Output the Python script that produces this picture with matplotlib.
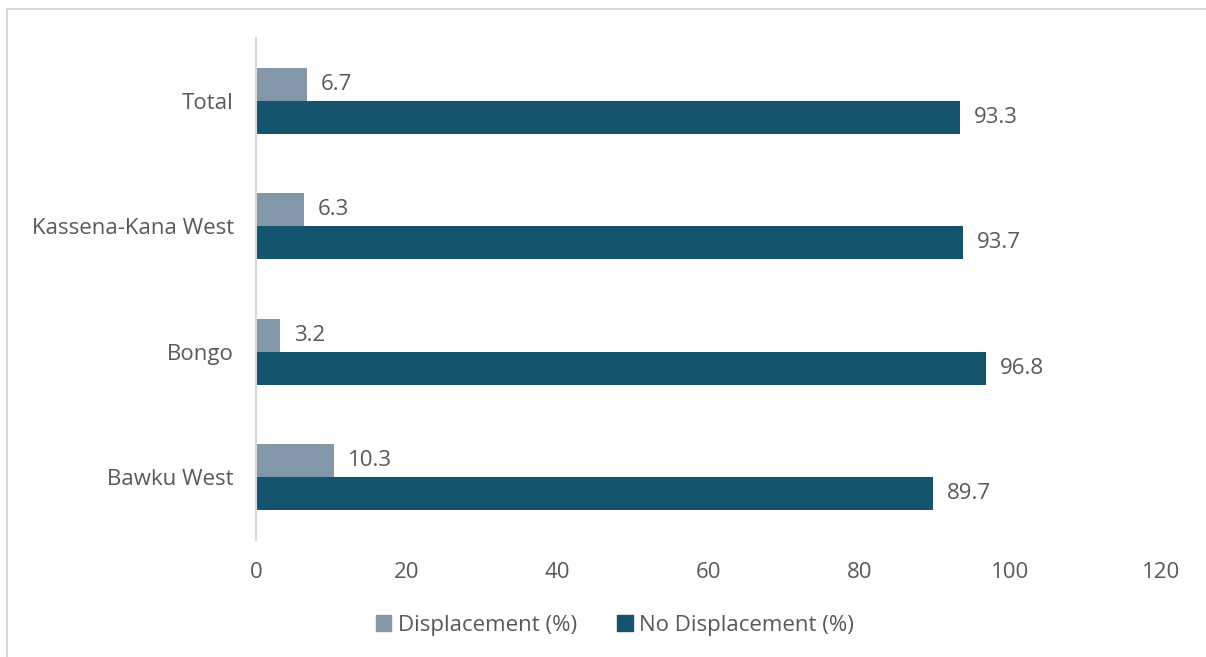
import matplotlib.pyplot as plt
from matplotlib.lines import Line2D
from matplotlib.patches import Patch

districts = ["Bawku West", "Bongo", "Kassena-Kana West", "Total"]
displacement = [10.3, 3.2, 6.3, 6.7]
no_displacement = [89.7, 96.8, 93.7, 93.3]
x_ticks = [0, 20, 40, 60, 80, 100, 120]

light = "#8497A9"
dark = "#14546E"
text_col = "#595959"

plt.rcParams["font.family"] = ["Open Sans", "DejaVu Sans"]

fig = plt.figure(figsize=(12.06, 6.57), dpi=100)
ax = fig.add_axes([0.2123, 0.1781, 0.7504, 0.7641])

pos = list(range(len(districts)))
h = 0.263
b1 = ax.barh([p + h / 2 for p in pos], displacement, height=h, color=light)
b2 = ax.barh([p - h / 2 for p in pos], no_displacement, height=h, color=dark)

for bars, vals in ((b1, displacement), (b2, no_displacement)):
    for bar, v in zip(bars, vals):
        ax.annotate(f"{v:.1f}", (v, bar.get_y() + bar.get_height() / 2),
                    xytext=(10, 0), textcoords="offset points",
                    va="center", ha="left", fontsize=16, color=text_col)

ax.set_xlim(0, 120)
ax.set_ylim(-0.5, 3.5)
ax.set_xticks(x_ticks)
ax.set_yticks(pos)
ax.set_yticklabels(districts)
ax.tick_params(axis="both", length=0, labelsize=16, colors=text_col)
ax.tick_params(axis="x", pad=16)
ax.tick_params(axis="y", pad=16)

for s in ("top", "right", "bottom"):
    ax.spines[s].set_visible(False)
ax.spines["left"].set_color("#D9D9D9")
ax.spines["left"].set_linewidth(1.5)

handles = [Patch(color=light, label="Displacement (%)"),
           Patch(color=dark, label="No Displacement (%)")]
fig.legend(handles=handles, loc="center", bbox_to_anchor=(615 / 1206, 1 - 625 / 657),
           ncol=2, frameon=False, fontsize=16, labelcolor=text_col,
           handlelength=0.7, handleheight=0.7, handletextpad=0.3, columnspacing=1.8)

# outer chart frame
fig.add_artist(Line2D([7 / 1206, 1], [1 - 9 / 657, 1 - 9 / 657], color="#D9D9D9", lw=1.5))
fig.add_artist(Line2D([7 / 1206, 7 / 1206], [0, 1 - 9 / 657], color="#D9D9D9", lw=1.5))

fig.savefig("out.png", dpi=100)
